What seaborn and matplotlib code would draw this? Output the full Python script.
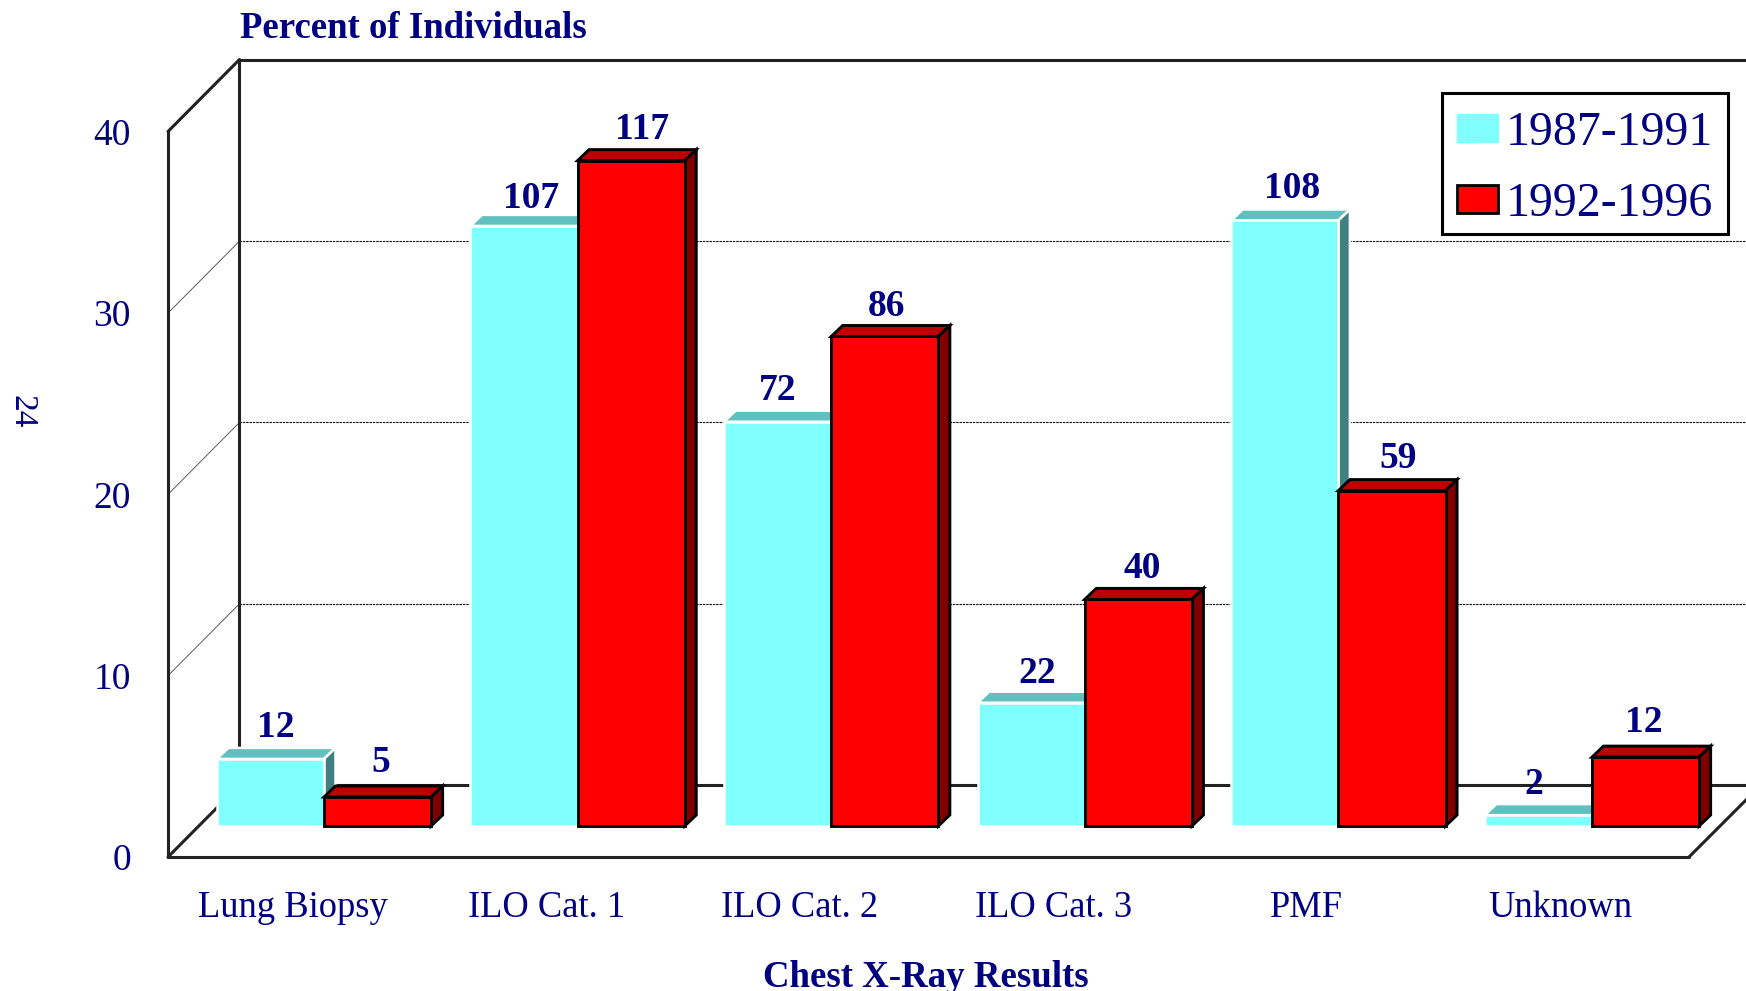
import matplotlib
matplotlib.use("Agg")
import matplotlib.pyplot as plt
import pandas as pd
import seaborn as sns
from matplotlib.patches import Polygon, Rectangle

categories = ["Lung Biopsy", "ILO Cat. 1", "ILO Cat. 2", "ILO Cat. 3", "PMF", "Unknown"]
periods = ["1987-1991", "1992-1996"]
percent_early = [3.7, 33.1, 22.3, 6.8, 33.4, 0.6]
percent_late = [1.6, 36.7, 27.0, 12.5, 18.5, 3.8]
counts_early = [12, 107, 72, 22, 108, 2]
counts_late = [5, 117, 86, 40, 59, 12]
y_ticks = [0, 10, 20, 30, 40]

# hand placement of the count labels, in pixels from the bar centre / bar top
nudge_early = [(5, 11), (7, 6.5), (0.5, 11), (6, 9), (7, 11), (-5, 10)]
nudge_late = [(3, 14), (11, 11), (1.5, 9), (4, 10), (6, 12), (-2, 14)]

NAVY = "#000080"
LINE = "#222222"
W, H = 1746, 991

# pixel layout of the pseudo 3d box
X0, X_STEP = 324, 253.6
Y0, Y_STEP = 826, 18.13
DX, DY = 11.5, 11


def px(x):
    return (x - X0) / X_STEP


def py(y):
    return (Y0 - y) / Y_STEP


def add_depth(ax, bar, top_color, side_color, edge, lw, z):
    x0, x1 = bar.get_x(), bar.get_x() + bar.get_width()
    h = bar.get_height()
    dx, dy = DX / X_STEP, DY / Y_STEP
    top = [(x0, h), (x1, h), (x1 + dx, h + dy), (x0 + dx, h + dy)]
    side = [(x1, 0), (x1 + dx, dy), (x1 + dx, h + dy), (x1, h)]
    for pts, color in [(top, top_color), (side, side_color)]:
        ax.add_patch(Polygon(pts, closed=True, facecolor=color, edgecolor=edge, linewidth=lw, zorder=z, joinstyle="miter"))


def draw_frame(ax):
    back_l, front_l = 239.5, 168
    back_top, front_top = 59.5, 131.5
    back_floor, front_floor = 785, 857
    heavy = dict(color=LINE, linewidth=2.2, zorder=2, solid_capstyle="round")
    ax.plot([px(front_l), px(front_l)], [py(front_top), py(front_floor)], **heavy)
    ax.plot([px(back_l), px(back_l)], [py(back_top), py(back_floor)], **heavy)
    ax.plot([px(front_l), px(back_l)], [py(front_top), py(back_top)], **heavy)
    ax.plot([px(back_l), px(W)], [py(back_top), py(back_top)], **heavy)
    ax.plot([px(front_l), px(back_l)], [py(front_floor), py(back_floor)], **heavy)
    ax.plot([px(back_l), px(W)], [py(back_floor), py(back_floor)], **heavy)
    ax.plot([px(front_l), px(1689)], [py(front_floor), py(front_floor)], **heavy)
    ax.plot([px(1689), px(1761)], [py(front_floor), py(back_floor)], **heavy)
    for v in y_ticks[1:4]:
        back_y = back_floor - v * Y_STEP
        front_y = front_floor - v * Y_STEP
        ax.plot([px(back_l), px(W)], [py(back_y), py(back_y)], color="#111111", linewidth=0.8,
                linestyle=(0, (2.2, 0.8)), zorder=1)
        ax.plot([px(front_l), px(back_l)], [py(front_y), py(back_y)], color="#444444", linewidth=0.6, zorder=1)


def main():
    sns.set_style("white")
    plt.rcParams["font.family"] = ["Liberation Serif", "DejaVu Serif"]

    df = pd.DataFrame({
        "category": categories * 2,
        "period": [periods[0]] * 6 + [periods[1]] * 6,
        "percent": percent_early + percent_late,
    })

    fig = plt.figure(figsize=(W / 100, H / 100), dpi=100)
    ax = fig.add_axes([0, 0, 1, 1])
    sns.barplot(data=df, x="category", y="percent", hue="period", order=categories, hue_order=periods,
                palette=["#80FFFF", "#FF0000"], saturation=1, width=0.845, gap=0, ax=ax)
    ax.set_xlim(px(0), px(W))
    ax.set_ylim(py(H), py(0))
    ax.set_axis_off()

    draw_frame(ax)

    early, late = ax.containers[0], ax.containers[1]
    for bar in early:
        bar.set_edgecolor("white")
        bar.set_linewidth(1.8)
        bar.set_zorder(4)
        add_depth(ax, bar, "#60BFBF", "#408080", "white", 1.8, 3)
    for bar in late:
        bar.set_edgecolor("black")
        bar.set_linewidth(2.1)
        bar.set_zorder(6)
        add_depth(ax, bar, "#BF0000", "#800000", "black", 2.1, 5)

    for bars, counts, nudges in [(early, counts_early, nudge_early), (late, counts_late, nudge_late)]:
        for bar, n, off in zip(bars, counts, nudges):
            ax.annotate(str(n), (bar.get_x() + bar.get_width() / 2, bar.get_height() + DY / Y_STEP),
                        xytext=off, textcoords="offset pixels", ha="center", va="baseline",
                        color=NAVY, fontsize=27, fontweight="bold", zorder=8)

    for v in y_ticks:
        ax.text(px(131), py(861 - v * Y_STEP), str(v), ha="right", va="center", color=NAVY, fontsize=27)
    for i, name in enumerate(categories):
        ax.text(i - 0.124, py(907.5), name, ha="center", va="center", color=NAVY, fontsize=26.3)

    ax.text(px(240), py(38), "Percent of Individuals", ha="left", va="baseline", color=NAVY, fontsize=26.5, fontweight="bold")
    ax.text(px(926), py(987), "Chest X-Ray Results", ha="center", va="baseline", color=NAVY, fontsize=26.6, fontweight="bold")
    ax.text(px(22), py(412), "24", rotation=-90, ha="center", va="center", color=NAVY, fontsize=24)

    # legend box is drawn apart so the entries can sit a little low in it, as in the original
    ax.add_patch(Rectangle((px(1442), py(234)), px(1728) - px(1442), py(93) - py(234),
                           facecolor="white", edgecolor="black", linewidth=2.2, zorder=9))
    sns.move_legend(ax, "upper left", bbox_to_anchor=(1457 / W, 1 - 111 / H), bbox_transform=fig.transFigure,
                    title=None, frameon=False, fontsize=34.5, labelcolor=NAVY, handlelength=0.85, handleheight=0.52,
                    handletextpad=0.17, borderpad=0, labelspacing=0.555, borderaxespad=0)
    legend = ax.get_legend()
    legend.set_zorder(10)
    legend.legend_handles[0].set_edgecolor("#80FFFF")
    legend.legend_handles[1].set_edgecolor("black")
    legend.legend_handles[1].set_linewidth(2)

    fig.savefig("out.png", dpi=100)


if __name__ == "__main__":
    main()
